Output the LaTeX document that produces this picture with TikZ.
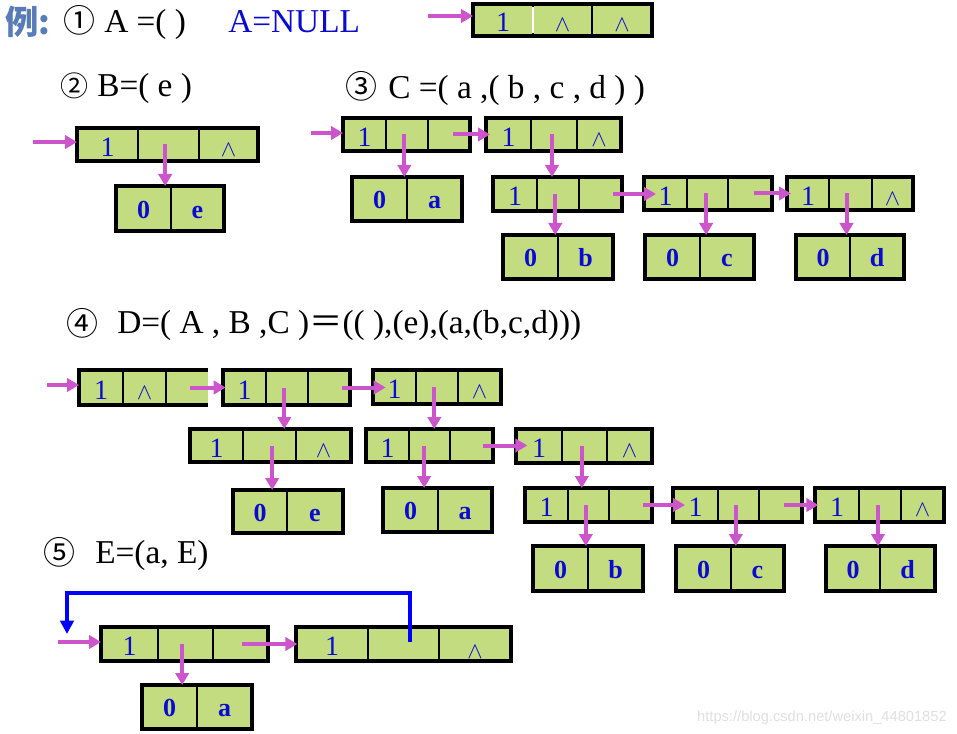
\documentclass[tikz,border=0pt]{standalone}
\usepackage{fontspec}
\setmainfont{Liberation Serif}
\newfontfamily\cjk{Noto Sans CJK SC}
\newfontfamily\wmfont{Liberation Sans}
\usetikzlibrary{arrows.meta,fit}
\definecolor{boxgreen}{RGB}{195,220,128}
\definecolor{pinkarr}{RGB}{204,85,204}
\definecolor{txtblue}{RGB}{10,10,210}
\definecolor{loopblue}{RGB}{0,0,255}
\definecolor{liblue}{RGB}{88,124,184}
\newcommand\nil{{\fontsize{18}{18}\selectfont$\wedge$}}
\newcommand\nillow{{\fontsize{18}{18}\selectfont\rule{0pt}{22pt}$\wedge$}}
\newcommand\cnum[2]{{\cjk\fontsize{#1}{#1}\selectfont #2}}
\tikzset{
  cell/.style={inner sep=0pt, outer sep=0pt, draw=none, text=txtblue,
    font=\fontsize{21}{21}\selectfont},
  bigcell/.style={cell, font=\fontsize{19.5}{19.5}\selectfont\bfseries},
  outline/.style={draw=black, line width=2.3pt, inner sep=0pt, outer sep=0pt},
  divider/.style={draw=black, line width=0.8pt},
  parr/.style={draw=pinkarr, line width=3pt, -{Triangle[length=9pt,width=10pt]}},
  barr/.style={draw=loopblue, line width=3pt, -{Triangle[length=10pt,width=10pt]}},
  title/.style={inner sep=0pt, anchor=base west, font=\fontsize{25}{25}\selectfont},
}
% style name x1 y1 x2 y2 text
\newcommand\cellnode[7]{%
  \node[#1, minimum width={(#5-#3)*0.75pt}, minimum height={(#6-#4)*0.75pt}]
    (#2) at ({(#3+#5)/2},{(#4+#6)/2}) {#7};}
% name x1 y1 x2 y2 d1 d2 t1 t3
\newcommand\threebox[9]{%
  \fill[boxgreen] (#2,#3) rectangle (#4,#5);
  \cellnode{cell}{#1-1}{#2}{#3}{#6}{#5}{\rule{0pt}{17.6pt}#8}
  \cellnode{cell}{#1-2}{#6}{#3}{#7}{#5}{}
  \cellnode{cell}{#1-3}{#7}{#3}{#4}{#5}{\rule{0pt}{17.6pt}#9}
  \draw[divider] (#6,#3) -- (#6,#5);
  \draw[divider] (#7,#3) -- (#7,#5);
  \node[outline, fit={(#2,#3) (#4,#5)}] (#1) {};
}
% name x1 y1 x2 y2 d t1 t2
\newcommand\twobox[8]{%
  \fill[boxgreen] (#2,#3) rectangle (#4,#5);
  \cellnode{bigcell}{#1-1}{#2}{#3}{#6}{#5}{\rule{0pt}{15pt}#7}
  \cellnode{bigcell}{#1-2}{#6}{#3}{#4}{#5}{\rule{0pt}{15pt}#8}
  \draw[divider] (#6,#3) -- (#6,#5);
  \node[outline, fit={(#2,#3) (#4,#5)}] (#1) {};
}
\begin{document}
\begin{tikzpicture}[x=0.75pt, y=-0.75pt]
\useasboundingbox (0,0) rectangle (957,734);
\fill[white] (0,0) rectangle (957,734);

% ---------- 1 ----------
\node[title, text=liblue, font=\fontsize{25}{25}\selectfont\cjk\bfseries] (ex) at (5,35) {例:};
\node[title] (c1) at (63,33) {\cnum{24}{①}};
\node[title] (t1) at (104,33) {A =( )};
\node[title, text=txtblue] (t1n) at (228,33) {A=NULL};
\threebox{A}{473}{4}{652}{36}{533}{592}{1}{\nil}
\node[cell] (A-t2) at (A-2) {\rule{0pt}{17.6pt}\nil};
\draw[white, line width=0.8pt] (533,7) -- (533,33);
\coordinate (Ain) at (428,16);
\draw[parr] (Ain) -- (Ain -| A.west);

% ---------- 2 ----------
\node[title] (c2) at (60,97) {\cnum{21}{②}};
\node[title] (t2) at (97,97) {B=( e )};
\threebox{B}{77}{128}{258}{161}{138}{199}{1}{\nil}
\twobox{Be}{116}{186}{224}{231}{171}{0}{e}
\coordinate (Bin) at (33,142);
\draw[parr] (Bin) -- (Bin -| B.west);
\draw[parr] ([xshift=-2.5pt]B-2.center) -- ([xshift=-2.5pt]B-2.center |- Be.north);

% ---------- 3 ----------
\node[title] (c3) at (345,99) {\cnum{24}{③}};
\node[title] (t3) at (388,99) {C =( a ,( b , c , d ) )};
\threebox{C1}{343}{118}{470}{151}{386}{428}{1}{}
\threebox{C2}{486}{118}{621}{151}{531}{577}{1}{\nil}
\twobox{Ca}{352}{177}{462}{221}{407}{0}{a}
\threebox{C3}{493}{177}{622}{211}{537}{579}{1}{}
\threebox{C4}{644}{177}{772}{210}{687}{728}{1}{}
\threebox{C5}{787}{177}{913}{210}{829}{872}{1}{\nil}
\twobox{Cb}{503}{235}{613}{279}{558}{0}{b}
\twobox{Cc}{645}{235}{754}{279}{700}{0}{c}
\twobox{Cd}{796}{235}{904}{279}{850}{0}{d}
\coordinate (Cin) at (311,133);
\draw[parr] (Cin) -- (Cin -| C1.west);
\draw[parr] ([xshift=-2pt]C1-2.center) -- ([xshift=-2pt]C1-2.center |- Ca.north);
\draw[parr] ([xshift=3pt]C1-3.center) -- ([xshift=3pt]C1-3.center -| C2.west);
\draw[parr] ([xshift=-1.5pt]C2-2.center) -- ([xshift=-1.5pt]C2-2.center |- C3.north);
\draw[parr] ([xshift=-2pt]C3-2.center) -- ([xshift=-2pt]C3-2.center |- Cb.north);
\draw[parr] ([xshift=9pt]C3-3.center) -- ([xshift=9pt]C3-3.center -| C4.west);
\draw[parr] ([xshift=-1pt]C4-2.center) -- ([xshift=-1pt]C4-2.center |- Cc.north);
\draw[parr] ([xshift=3pt]C4-3.center) -- ([xshift=3pt]C4-3.center -| C5.west);
\draw[parr] ([xshift=-3pt]C5-2.center) -- ([xshift=-3pt]C5-2.center |- Cd.north);

% ---------- 4 ----------
\node[title] (c4) at (66,335) {\cnum{24}{④}};
\node[title] (t4) at (117,334) {D=( A , B ,C ){\cjk ＝}(( ),(e),(a,(b,c,d)))};
% D1: open on the right
\fill[boxgreen] (79,370) rectangle (208,405);
\cellnode{cell}{D1-1}{79}{370}{123}{405}{\rule{0pt}{17.6pt}1}
\cellnode{cell}{D1-2}{123}{370}{166}{405}{\rule{0pt}{17.6pt}\nil}
\cellnode{cell}{D1-3}{166}{370}{208}{405}{}
\draw[divider] (123,370) -- (123,405);
\draw[divider] (166,370) -- (166,405);
\draw[draw=black, line width=2.3pt] (208,370) -- (79,370) -- (79,405) -- (208,405);
\threebox{D2}{223}{370}{350}{405}{266}{308}{1}{}
\threebox{D3}{373}{370}{501}{404}{416}{458}{1}{\nil}
\threebox{D4}{190}{429}{351}{462}{243}{296}{1}{\nil}
\threebox{D5}{366}{429}{493}{462}{409}{450}{1}{}
\threebox{D6}{516}{429}{652}{463}{562}{607}{1}{\nil}
\threebox{D7}{525}{488}{652}{522}{568}{609}{1}{}
\threebox{D8}{673}{488}{802}{522}{718}{759}{1}{}
\threebox{D9}{815}{488}{944}{522}{859}{901}{1}{\nil}
\twobox{De}{233}{490}{343}{533}{287}{0}{e}
\twobox{Da}{383}{488}{492}{532}{438}{0}{a}
\twobox{Db}{533}{546}{643}{591}{588}{0}{b}
\twobox{Dc}{676}{546}{784}{591}{731}{0}{c}
\twobox{Dd}{826}{546}{935}{591}{880}{0}{d}
\coordinate (Din) at (47,385);
\draw[parr] (Din) -- (Din -| D1-1.west);
\draw[parr] ([xshift=2pt]D1-3.center) -- ([xshift=2pt]D1-3.center -| D2.west);
\draw[parr] ([xshift=-2pt]D2-2.center) -- ([xshift=-2pt]D2-2.center |- D4.north);
\draw[parr] ([xshift=9.5pt]D2-3.center) -- ([xshift=9.5pt]D2-3.center -| D3.west);
\draw[parr] ([xshift=-2pt]D3-2.center) -- ([xshift=-2pt]D3-2.center |- D5.north);
\draw[parr] ([xshift=2pt]D4-2.center) -- ([xshift=2pt]D4-2.center |- De.north);
\draw[parr] ([xshift=-4pt]D5-2.center) -- ([xshift=-4pt]D5-2.center |- Da.north);
\draw[parr] ([xshift=8.5pt]D5-3.center) -- ([xshift=8.5pt]D5-3.center -| D6.west);
\draw[parr] ([xshift=-2pt]D6-2.center) -- ([xshift=-2pt]D6-2.center |- D7.north);
\draw[parr] ([xshift=-2pt]D7-2.center) -- ([xshift=-2pt]D7-2.center |- Db.north);
\draw[parr] ([xshift=9pt]D7-3.center) -- ([xshift=9pt]D7-3.center -| D8.west);
\draw[parr] ([xshift=-2pt]D8-2.center) -- ([xshift=-2pt]D8-2.center |- Dc.north);
\draw[parr] ([xshift=2.5pt]D8-3.center) -- ([xshift=2.5pt]D8-3.center -| D9.west);
\draw[parr] ([xshift=-1.5pt]D9-2.center) -- ([xshift=-1.5pt]D9-2.center |- Dd.north);

% ---------- 5 ----------
\node[title] (c5) at (43,564) {\cnum{24}{⑤}};
\node[title] (t5) at (95,563) {E=(a, E)};
\threebox{E1}{101}{627}{268}{661}{158}{213}{1}{}
\threebox{E2}{296}{627}{511}{661}{368}{439}{1}{\nillow}
\twobox{Ea}{142}{685}{252}{729}{197}{0}{a}
\coordinate (Ein) at (58,642);
\draw[parr] (Ein) -- (Ein -| E1.west);
\draw[parr] ([xshift=-2.5pt]E1-2.center) -- ([xshift=-2.5pt]E1-2.center |- Ea.north);
\draw[parr] ([xshift=1pt]E1-3.center) -- ([xshift=1pt]E1-3.center -| E2.west);
\coordinate (Ecorner) at (67,593);
\coordinate (Etip) at (67,634);
\draw[barr] ([xshift=4.5pt,yshift=1.5pt]E2-2.center) |- (Ecorner) -- (Etip);

% watermark
\node[inner sep=0pt, anchor=base east, text=black!12, font=\wmfont\fontsize{11}{11}\selectfont] (wm) at (947,721) {https://blog.csdn.net/weixin\_44801852};
\end{tikzpicture}
\end{document}
